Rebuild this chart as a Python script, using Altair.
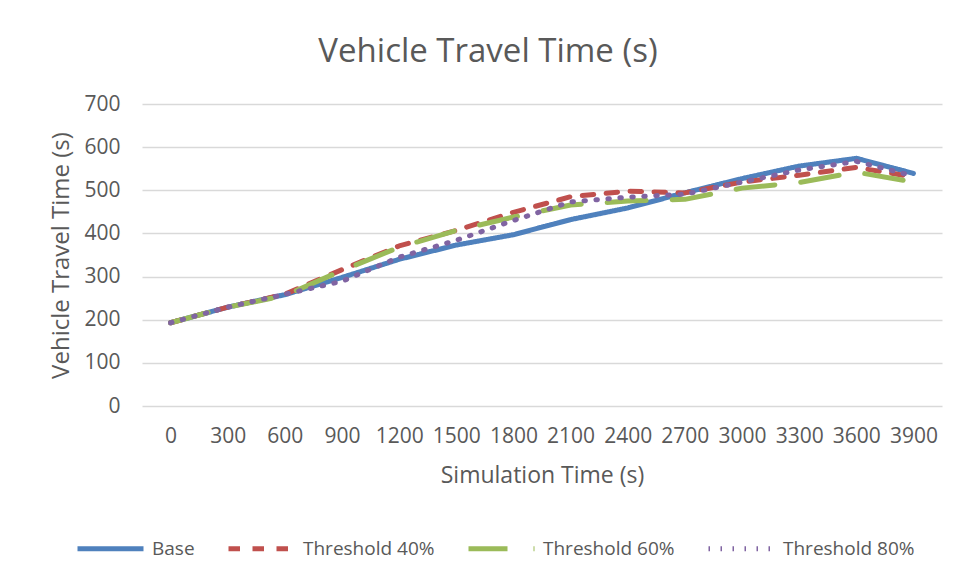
import altair as alt
import pandas as pd

times = ["0", "300", "600", "900", "1200", "1500", "1800", "2100", "2400",
         "2700", "3000", "3300", "3600", "3900"]
series_names = ["Base", "Threshold 40%", "Threshold 60%", "Threshold 80%"]
base = [193, 229, 258, 298, 340, 373, 397, 432, 459, 494, 527, 556, 574, 539]
th40 = [193, 229, 259, 316, 371, 407, 449, 485, 498, 494, 519, 535, 553, 531]
th60 = [193, 229, 256, 314, 368, 407, 438, 466, 475, 479, 505, 518, 542, 519]
th80 = [193, 229, 259, 289, 345, 384, 430, 473, 484, 491, 519, 547, 567, 533]

colors = ["#4F81BD", "#C0504D", "#9BBB59", "#8064A2"]
dashes = [[1, 0], [11.5, 12.5], [39, 26], [1.5, 10.5]]

rows = []
for name, vals in zip(series_names, [base, th40, th60, th80]):
    for t, v in zip(times, vals):
        rows.append({"time": t, "value": v, "series": name})
df = pd.DataFrame(rows)

font = "Open Sans"
txt = "#595959"

chart = alt.Chart(df).mark_line(strokeWidth=5, strokeCap="round", strokeJoin="round").encode(
    x=alt.X("time:O", sort=times,
            axis=alt.Axis(title="Simulation Time (s)", labelAngle=0, domain=False, ticks=False,
                          grid=False, labelPadding=19, titlePadding=18,
                          labelFontSize=21, titleFontSize=23, titleFontWeight="normal")),
    y=alt.Y("value:Q", scale=alt.Scale(domain=[0, 700]),
            axis=alt.Axis(title="Vehicle Travel Time (s)", values=[0, 100, 200, 300, 400, 500, 600, 700],
                          domain=False, ticks=False, labelPadding=22, titlePadding=10,
                          gridColor="#D9D9D9", gridWidth=1.3,
                          labelFontSize=21, titleFontSize=24, titleFontWeight="normal")),
    color=alt.Color("series:N", scale=alt.Scale(domain=series_names, range=colors),
                    legend=alt.Legend(title=None, orient="none", direction="horizontal",
                                      legendX=-67, legendY=409, columns=4,
                                      symbolType="stroke", symbolSize=4356, symbolStrokeWidth=5,
                                      labelFontSize=19, labelColor=txt, labelFont=font,
                                      labelOffset=6, columnPadding=23)),
    strokeDash=alt.StrokeDash("series:N", scale=alt.Scale(domain=series_names, range=dashes),
                              legend=None),
).properties(
    width=800,
    height=302,
    title=alt.TitleParams("Vehicle Travel Time (s)", fontSize=33, font=font, color=txt,
                          fontWeight="normal", anchor="middle", dx=-54, offset=24),
    padding={"left": 134, "top": 96, "right": 10, "bottom": 167},
    autosize=alt.AutoSizeParams(type="none"),
    background="white",
).configure_axis(
    labelFont=font, titleFont=font, labelColor=txt, titleColor=txt,
).configure_view(stroke=None)

chart.save("out.html", embed_options={"renderer": "svg", "actions": False})
